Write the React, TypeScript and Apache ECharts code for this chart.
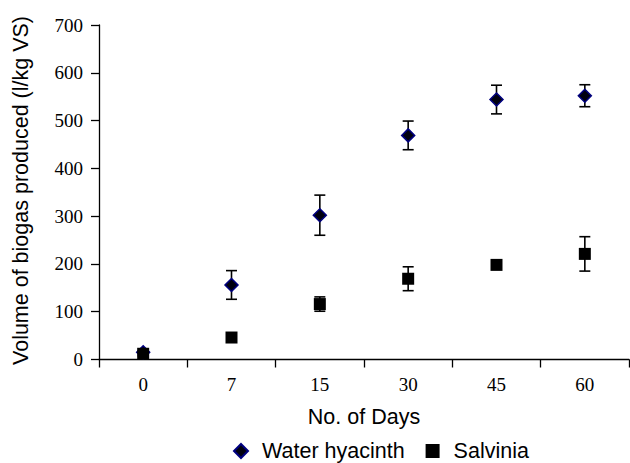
import React, { useEffect, useRef } from "react";
import * as echarts from "echarts";

const categories = ["0", "7", "15", "30", "45", "60"];
const hyacinth = [15, 156, 302, 469, 544, 552];
const hyacinthErr = [3, 30, 42, 30, 30, 23];
const salvinia = [12, 46, 116, 169, 198, 221];
const salviniaErr = [4, 5, 15, 25, 5, 36];
const yTicks = [0, 100, 200, 300, 400, 500, 600, 700];

const SANS = "Liberation Sans, Arial, sans-serif";
const SERIF = "Liberation Serif, Times New Roman, serif";

function errData(vals: number[], errs: number[]) {
  return vals.map((v, i) => [i, v - errs[i], v + errs[i]]);
}

function renderErr(params: any, api: any) {
  const lo = api.coord([api.value(0), api.value(1)]);
  const hi = api.coord([api.value(0), api.value(2)]);
  const cap = 5.5;
  const st = { stroke: "#000", lineWidth: 1.6 };
  return {
    type: "group",
    children: [
      { type: "line", shape: { x1: lo[0], y1: lo[1], x2: hi[0], y2: hi[1] }, style: st },
      { type: "line", shape: { x1: lo[0] - cap, y1: lo[1], x2: lo[0] + cap, y2: lo[1] }, style: st },
      { type: "line", shape: { x1: hi[0] - cap, y1: hi[1], x2: hi[0] + cap, y2: hi[1] }, style: st },
    ],
  };
}

export default function App() {
  const ref = useRef<HTMLDivElement>(null);
  useEffect(() => {
    if (!ref.current) return;
    const chart = echarts.init(ref.current, undefined, { renderer: "svg" });
    chart.setOption({
      animation: false,
      backgroundColor: "#fff",
      grid: { left: 99, right: 1, top: 25, bottom: 103.5 },
      xAxis: {
        type: "category",
        data: categories,
        boundaryGap: true,
        axisLine: { lineStyle: { color: "#000", width: 1.3 } },
        axisTick: { show: true, interval: 0, length: 8, lineStyle: { color: "#000", width: 1.3 } },
        axisLabel: { interval: 0, margin: 15, color: "#000", fontFamily: SERIF, fontSize: 19 },
        splitLine: { show: false },
      },
      yAxis: {
        type: "value",
        min: yTicks[0],
        max: yTicks[yTicks.length - 1],
        interval: 100,
        axisLine: { show: true, lineStyle: { color: "#000", width: 1.3 } },
        axisTick: { show: true, length: 8, lineStyle: { color: "#000", width: 1.3 } },
        axisLabel: { margin: 16, color: "#000", fontFamily: SERIF, fontSize: 19 },
        splitLine: { show: false },
      },
      legend: {
        left: 233,
        top: 440,
        padding: 0,
        itemGap: 21,
        itemWidth: 14,
        itemHeight: 14,
        textStyle: { color: "#000", fontFamily: SANS, fontSize: 21.5, padding: [0, 0, 0, 9] },
        data: ["Water hyacinth", "Salvinia"],
      },
      graphic: [
        {
          type: "text",
          x: 364,
          y: 416.5,
          style: {
            text: "No. of Days",
            font: `21.5px ${SANS}`,
            fill: "#000",
            align: "center",
            verticalAlign: "middle",
          },
        },
        {
          type: "text",
          x: 21,
          y: 190.5,
          rotation: Math.PI / 2,
          style: {
            text: "Volume of biogas produced (l/kg VS)",
            font: `21.5px ${SANS}`,
            fill: "#000",
            align: "center",
            verticalAlign: "middle",
          },
        },
      ],
      series: [
        {
          type: "custom",
          name: "errH",
          renderItem: renderErr,
          data: errData(hyacinth, hyacinthErr),
          encode: { x: 0, y: [1, 2] },
          z: 1,
          silent: true,
        },
        {
          type: "custom",
          name: "errS",
          renderItem: renderErr,
          data: errData(salvinia, salviniaErr),
          encode: { x: 0, y: [1, 2] },
          z: 1,
          silent: true,
        },
        {
          type: "scatter",
          name: "Water hyacinth",
          data: hyacinth,
          symbol: "diamond",
          symbolSize: 13,
          itemStyle: { color: "#000010", borderColor: "#000080", borderWidth: 1.5, opacity: 1 },
          z: 3,
        },
        {
          type: "scatter",
          name: "Salvinia",
          data: salvinia,
          symbol: "rect",
          symbolSize: 12,
          itemStyle: { color: "#000", opacity: 1 },
          z: 4,
        },
      ],
    });
    return () => chart.dispose();
  }, []);
  return <div ref={ref} style={{ width: 630, height: 463, position: "absolute", left: 0, top: 0 }} />;
}
